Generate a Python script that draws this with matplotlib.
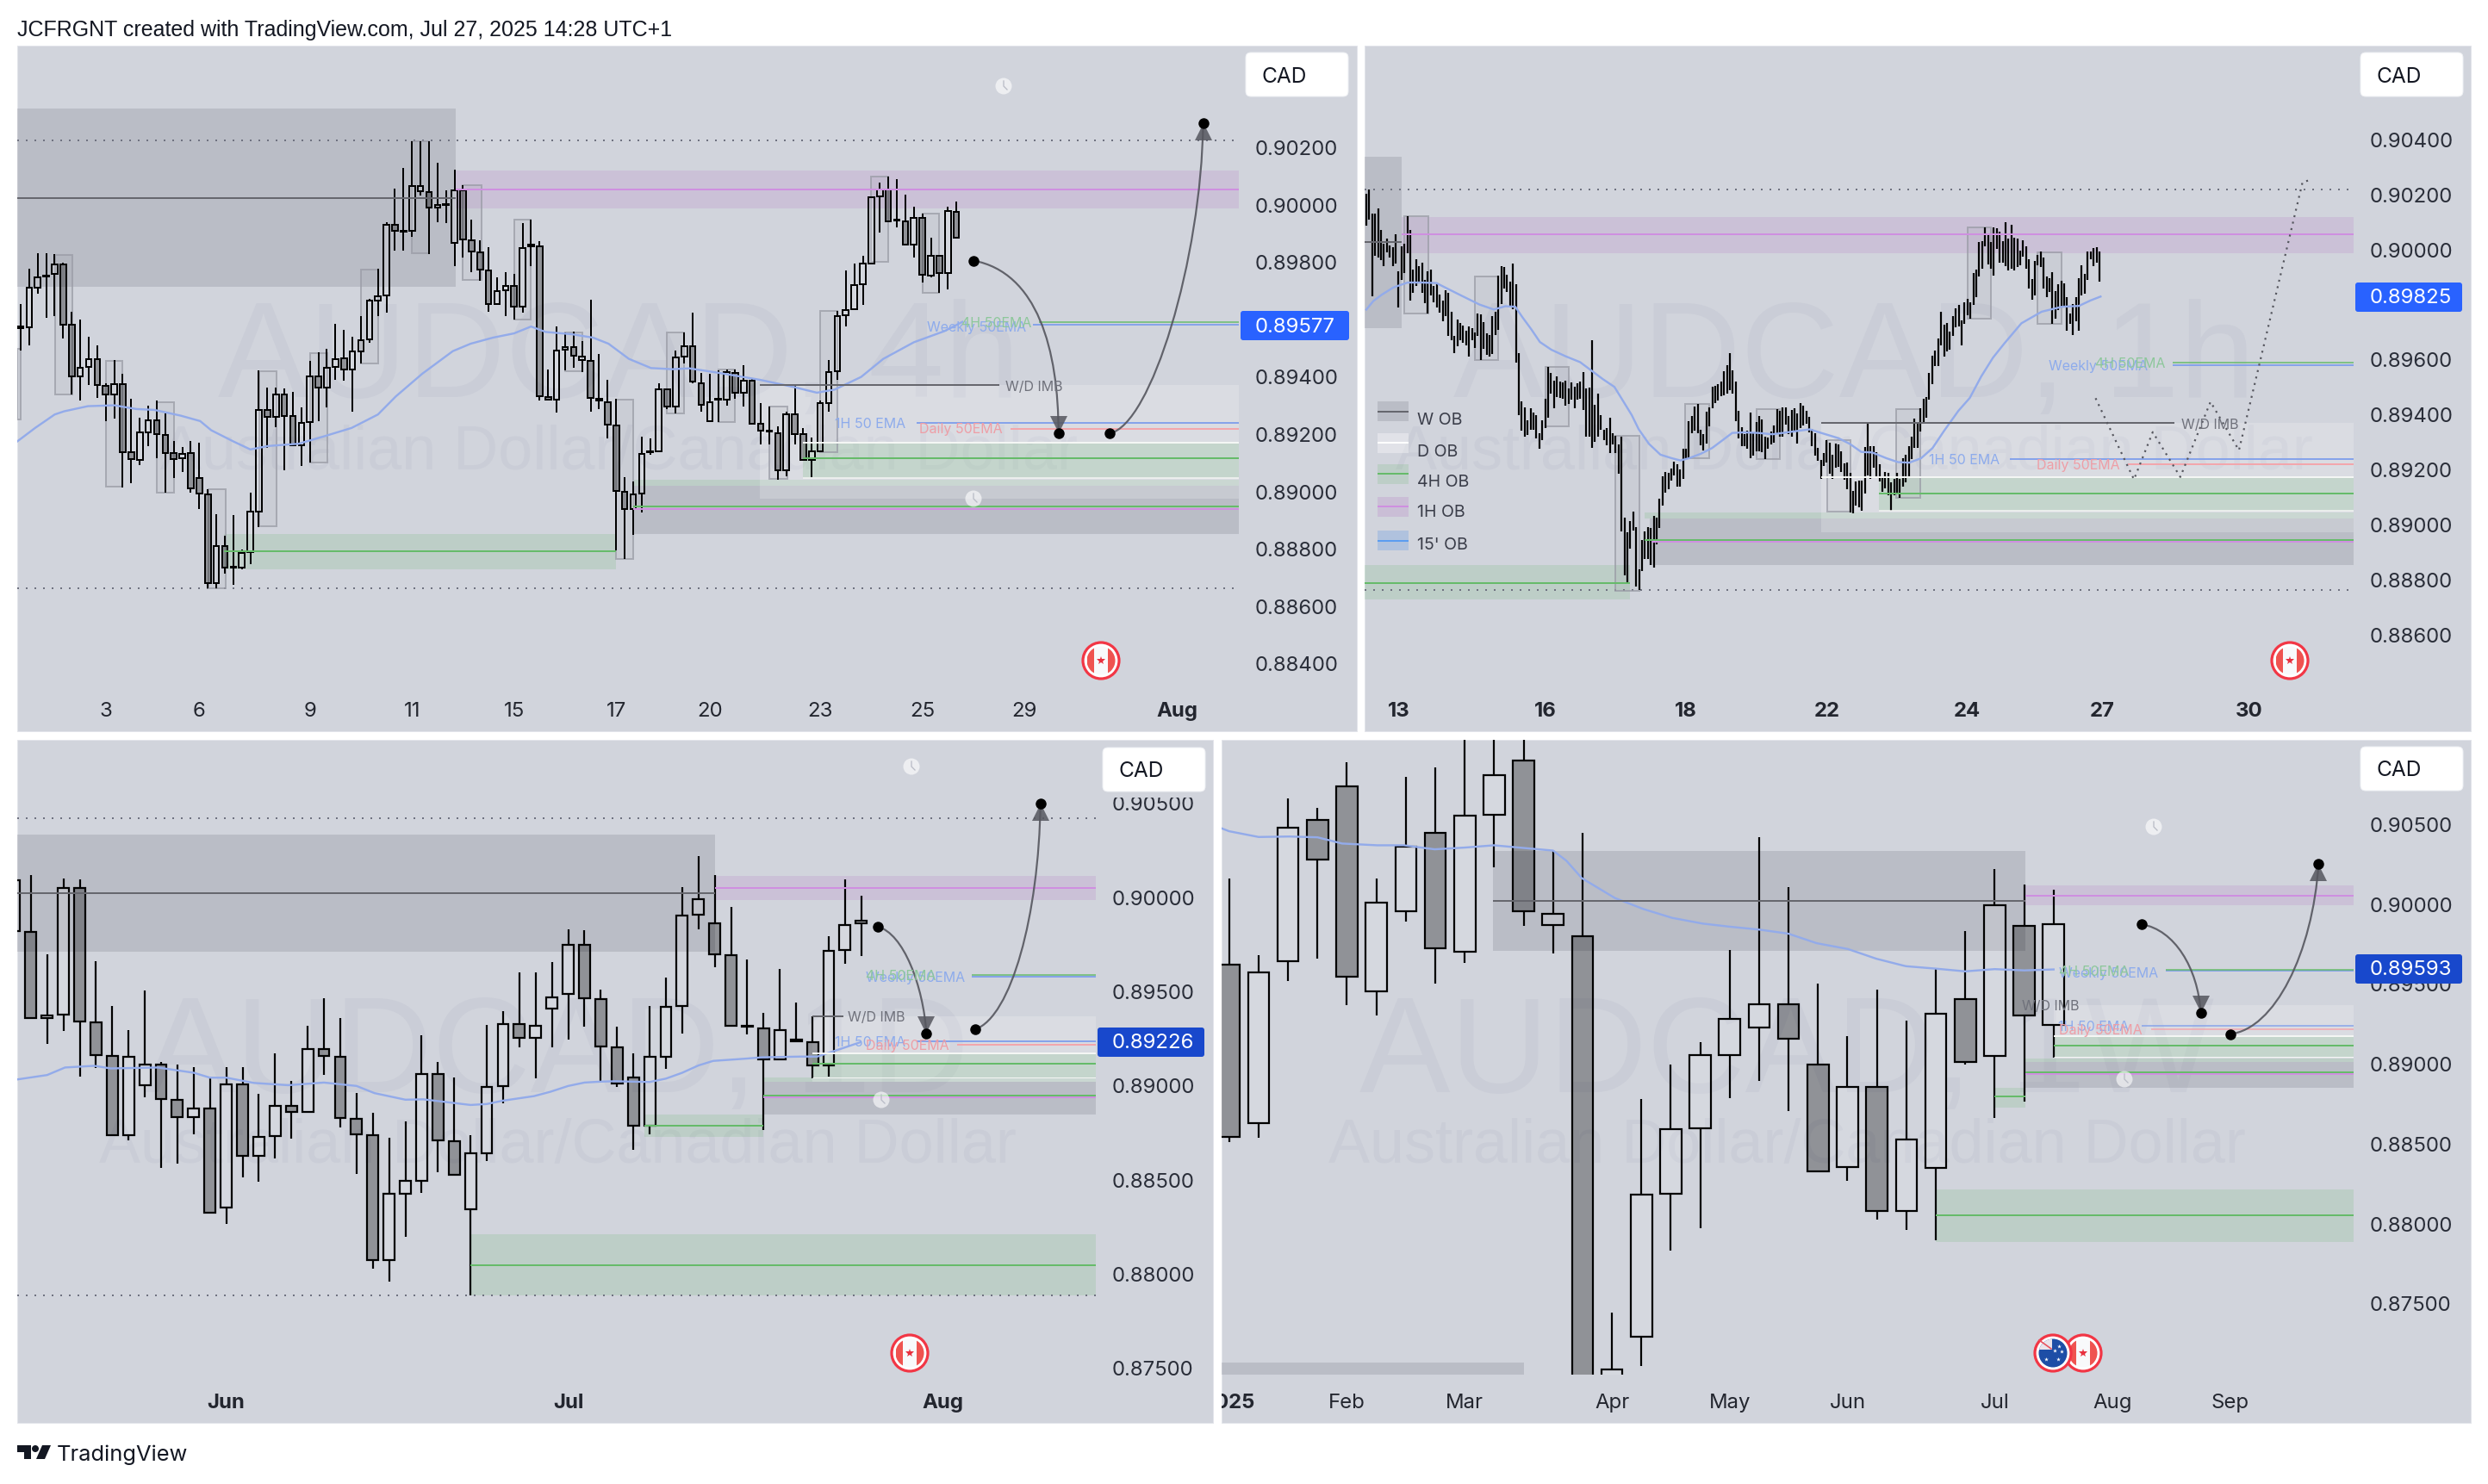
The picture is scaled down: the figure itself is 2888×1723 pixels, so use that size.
import numpy as np
import matplotlib
matplotlib.use("Agg")
import matplotlib.pyplot as plt
from matplotlib.patches import Rectangle, Circle, Polygon, FancyBboxPatch, PathPatch
from matplotlib.path import Path
from matplotlib.transforms import Bbox, TransformedBbox

plt.rcParams['font.family'] = ['Inter', 'DejaVu Sans']

# All prices below are AUDCAD quotes in units of 0.00001.
# ---------- 4h chart ----------
p1_open = [89569,89571,89708,89749,89758,89791,89579,89401,89433,89461,89366,89337,89373,89134,89109,89206,89247,89195,89131,89113,89131,89044,88989,88678,88807,88733,88733,88788,88929,89282,89260,89338,89261,89159,89241,89401,89360,89433,89464,89423,89488,89530,89665,89681,89929,89906,89907,90046,90043,89989,89999,89865,90049,89874,89832,89769,89651,89700,89716,89643,89855,89854,89327,89318,89492,89502,89458,89453,89322,89311,89228,88997,88937,88992,89134,89138,89354,89294,89469,89506,89377,89244,89318,89319,89412,89344,89385,89234,89209,89203,89071,89267,89200,89109,89137,89307,89417,89613,89634,89722,89794,90027,90052,89947,89940,89860,89954,89753,89822,89760,89975]
p1_close = [89574,89708,89747,89752,89791,89579,89401,89429,89459,89370,89337,89373,89134,89110,89206,89247,89198,89132,89112,89129,89008,88992,88678,88808,88733,88736,88785,88928,89283,89258,89338,89263,89159,89239,89401,89360,89429,89461,89423,89488,89527,89665,89679,89929,89907,89909,90065,90065,89989,89997,90000,90049,89877,89835,89772,89651,89697,89716,89643,89849,89859,89330,89318,89489,89502,89472,89469,89326,89315,89231,89000,88937,88989,89129,89137,89354,89294,89467,89506,89381,89302,89311,89321,89414,89344,89385,89236,89211,89212,89071,89267,89200,89109,89137,89307,89414,89610,89631,89720,89794,90024,90052,89942,89943,89859,89954,89755,89822,89760,89978,89884]
p1_high = [89653,89775,89829,89829,89826,89797,89624,89598,89539,89508,89377,89456,89409,89322,89256,89299,89315,89271,89176,89154,89176,89168,89005,88918,88843,88917,88796,88995,89420,89362,89362,89357,89346,89291,89453,89483,89495,89582,89563,89539,89609,89671,89775,89939,90054,90127,90219,90219,90219,90146,90050,90121,90068,89948,89876,89852,89747,89763,89758,89936,89948,89873,89425,89574,89554,89555,89524,89668,89477,89388,89322,89047,89032,89189,89184,89377,89354,89491,89554,89621,89412,89409,89420,89425,89425,89440,89393,89307,89294,89225,89278,89366,89220,89186,89315,89456,89629,89771,89794,89821,90027,90077,90096,90088,90033,89991,89967,89885,89822,89991,90010]
p1_low = [89491,89508,89687,89605,89609,89532,89338,89315,89370,89326,89244,89252,89011,89027,89090,89157,89113,88995,89046,89066,88995,88937,88662,88662,88712,88673,88728,88744,88874,89149,89223,89071,89156,89087,89099,89244,89291,89388,89385,89278,89444,89517,89609,89621,89838,89838,89888,90030,89826,89939,89936,89785,89815,89763,89734,89624,89648,89609,89598,89621,89785,89315,89315,89275,89420,89429,89414,89278,89286,89184,88793,88764,88848,88926,89126,89135,89286,89272,89444,89376,89278,89241,89241,89299,89322,89294,89236,89162,89162,89039,89050,89162,89105,89047,89134,89278,89388,89574,89634,89650,89794,89901,89939,89920,89857,89815,89728,89747,89690,89704,89881]
p1_ema_x = [-0.4,1.7,4,5.1,7.9,11,13.6,15.7,18.8,21.1,22.4,25,27,29.1,32.7,35.8,38.9,42,44.1,47.2,50.8,52.9,55.5,58,60,61.7,64.8,67.3,69.1,71.5,74.1,76.6,78.6,81.7,86.9,91,93.6,95.7,98.8,101.4,105,108.6,110.7]
p1_ema = [89173,89220,89267,89278,89296,89299,89286,89283,89263,89244,89212,89173,89145,89157,89165,89192,89220,89267,89330,89409,89488,89514,89535,89550,89574,89555,89547,89535,89514,89461,89429,89425,89428,89414,89388,89362,89343,89354,89398,89461,89519,89558,89590]
p1_tick_pos = [10,21,34,46,58,70,81,94,106,118,136]
p1_tick_lab = ['3','6','9','11','15','17','20','23','25','29','Aug']
p1_y_ticks = [0.902,0.900,0.898,0.894,0.892,0.890,0.888,0.886,0.884]
p1_boxes = [(4.03,6.1,89824,89338),(10,12,89453,89016),(16,18,89310,88995),(22.1,24.1,89006,88662),(28.1,30.1,89418,88876),(34,36.1,89481,89099),(40,42,89774,89445),(46,48,90219,89829),(52,54.2,90068,89736),(58,60,89948,89598),(64,66,89554,89417),(70,72,89318,88764),(76,78,89554,89272),(-0.4,0.05,89495,89249),(82,84,89425,89241),(88,90.1,89294,89043),(94,96,89629,89134),(100,102,90096,89799),(106,108,89967,89690)]

# ---------- 1h chart ----------
p2_high = [90201,90217,90128,90128,90147,90070,90019,90037,90013,90006,90053,89919,90009,90019,90120,90068,89925,89962,89938,89951,89886,89919,89926,89865,89878,89834,89813,89850,89842,89773,89685,89745,89732,89721,89704,89719,89711,89696,89766,89761,89735,89693,89686,89756,89773,89902,89936,89933,89907,89881,89946,89873,89621,89446,89425,89377,89423,89407,89396,89332,89377,89456,89571,89551,89521,89537,89518,89516,89521,89495,89516,89501,89513,89518,89553,89493,89498,89667,89433,89474,89396,89344,89349,89388,89332,
89323,89290,89318,89024,88971,89013,89046,88990,88836,88943,88974,88990,88987,89032,89024,89094,89175,89190,89188,89203,89227,89219,89200,89275,89275,89375,89394,89429,89438,89344,89328,89409,89425,89501,89503,89509,89519,89555,89579,89621,89560,89519,89412,89352,89328,89341,89407,89332,89373,89394,89381,89318,89315,89337,89360,89419,89412,89424,89425,89394,89415,89421,89403,89441,89430,89412,89391,89346,89332,89278,89235,89259,89305,89297,89253,89294,89290,89266,89222,89224,89188,89122,89156,89160,89159,
89282,89365,89284,89284,89263,89219,89176,89190,89186,89152,89165,89186,89165,89240,89253,89284,89318,89384,89371,89420,89456,89462,89550,89613,89631,89675,89772,89725,89730,89699,89756,89785,89798,89742,89805,89818,89805,89912,89925,90025,90029,90079,90051,90025,90079,90076,90063,90029,90097,90039,90087,90042,90037,89993,90032,90009,89962,89891,89957,89978,89990,89969,89900,89894,89915,89848,89873,89884,89876,89826,89766,89801,89826,89893,89940,89910,89990,89990,90003,90006,89990]
p2_low = [90084,90105,89827,89975,89970,89959,89938,89988,89970,89938,89948,89787,89886,89912,89985,89811,89839,89867,89878,89842,89803,89764,89832,89805,89787,89769,89737,89756,89683,89667,89623,89648,89667,89659,89651,89610,89667,89641,89683,89596,89636,89615,89610,89620,89686,89707,89801,89857,89844,89794,89782,89586,89398,89339,89318,89325,89344,89344,89313,89274,89305,89350,89386,89475,89422,89461,89459,89457,89430,89436,89454,89422,89454,89457,89415,89318,89318,89279,89300,89318,89342,89305,89287,89259,89290,
89258,89183,88974,88815,88790,88911,88977,88773,88763,88830,88875,88875,88851,88844,88927,88987,89068,89115,89127,89159,89179,89136,89136,89165,89238,89240,89332,89339,89332,89287,89269,89292,89357,89422,89441,89450,89464,89469,89476,89488,89476,89375,89311,89284,89284,89276,89240,89250,89266,89266,89261,89236,89276,89290,89297,89332,89318,89318,89363,89328,89318,89339,89294,89351,89360,89365,89334,89285,89250,89232,89164,89211,89224,89183,89164,89205,89208,89190,89162,89128,89042,89039,89068,89063,89050,
89113,89178,89164,89206,89169,89155,89117,89131,89105,89048,89107,89113,89097,89136,89152,89167,89238,89277,89277,89336,89367,89386,89452,89508,89576,89574,89650,89608,89628,89633,89683,89714,89720,89650,89728,89759,89746,89796,89824,89900,89928,90008,89943,89928,89902,90001,89951,89949,89936,89923,89928,89921,89933,89940,89973,89928,89857,89816,89831,89940,89933,89857,89826,89844,89727,89746,89779,89787,89787,89702,89727,89688,89738,89702,89832,89836,89886,89964,89936,89949,89880]
p2_ema_x = [0,2.4,5.3,9.2,14.1,19,23.9,27.8,32.7,38.6,43.5,47.4,50.8,53.3,56.2,59.2,63.1,68,72.9,76.8,80.7,84.6,87.5,90.5,92.9,96.4,100.3,104.2,107.1,110,114,117.9,121.8,124.8,128.7,133.6,138.5,143.4,151.2,155.1,161,164.9,168.8,172.5,177.4,181.3,185.2,189.2,193.1,197,201.9,205.8,209.7,213.7,217.6,223.4,230.3,237.2,243,247,250.4]
p2_ema = [89780,89811,89834,89860,89878,89878,89876,89855,89829,89798,89780,89792,89790,89751,89709,89662,89634,89610,89589,89558,89527,89499,89449,89397,89345,89292,89253,89240,89232,89240,89256,89277,89308,89332,89334,89332,89327,89334,89345,89332,89313,89292,89263,89261,89240,89226,89224,89240,89277,89339,89412,89459,89537,89605,89657,89730,89772,89790,89793,89813,89827]
p2_tick_pos = [11,61,109,157,205,251,301]
p2_tick_lab = ['13','16','18','22','24','27','30']
p2_y_ticks = [0.904,0.902,0.900,0.898,0.896,0.894,0.892,0.890,0.888,0.886]
p2_boxes = [(12.8,21.2,90120,89766),(36.9,45,89901,89598),(61.1,69.1,89571,89355),(84.9,93.2,89320,88759),(108.8,117,89436,89240),(133,141.1,89417,89238),(157.1,165.2,89305,89046),(180.8,189,89417,89097),(205,213,90077,89746),(229,237,89989,89728)]
p2_proj_x = [248.7,261.8,268.2,277.6,287.9,297.6,319.3,322.3]
p2_proj_y = [89458,89163,89335,89172,89445,89269,90243,90251]

# ---------- 1D chart ----------
p3_open = [89818,89813,89355,89373,90047,89331,89156,88735,88997,89109,88922,88828,88875,88351,89004,88625,88730,88889,88859,89193,89151,88819,88735,88071,88424,88492,89058,88702,88342,88639,88992,89322,89249,89408,89483,89743,89455,89198,89039,88782,89151,89418,89904,89857,89689,89310,89303,89135,89240,89226,89102,89715,89858]
p3_close = [90087,89357,89369,90047,89338,89158,88735,89151,89109,88924,88828,88875,88323,89004,88625,88726,88889,88859,89193,89156,88824,88740,88071,88422,88489,89058,88705,88524,88637,88988,89322,89249,89313,89465,89743,89460,89205,89006,88782,89151,89415,89900,89988,89694,89313,89315,89135,89291,89231,89102,89712,89850,89872]
p3_high = [90133,90115,89694,90098,90094,89659,89420,89292,89502,89123,89109,89093,89046,89097,89097,88955,89170,89020,89315,89460,89357,88959,88852,88719,88807,89263,89123,89039,88735,89320,89390,89596,89600,89654,89825,89820,89507,89308,89168,89418,89572,90052,90215,90115,89946,89666,89385,89617,89436,89366,89792,90091,90005]
p3_low = [89783,89357,89217,89287,89044,89090,88735,88707,88936,88562,88581,88740,88323,88263,88510,88487,88609,88714,88859,89053,88777,88529,88024,87958,88192,88426,88539,88524,87884,88595,88903,89198,89034,89198,89240,89310,89011,88988,88655,88740,89086,89273,89825,89624,89313,89268,88761,89135,89231,89034,89044,89642,89684]
p3_ema_x = [0.2,2,3.1,4.9,5.9,8.8,11,12,13,14.7,16.8,19,21,22.1,24,25.1,28,29,30,31.9,32.9,34,35,36,36.9,39,40,41,42,42.9,44.9,45.9,48.3,49.3,50.7,51.9]
p3_ema = [89030,89053,89093,89102,89088,89093,89065,89039,89039,89011,88999,89013,88995,88957,88922,88924,88894,88899,88917,88941,88964,88995,89013,89018,89020,89016,89034,89065,89104,89128,89140,89147,89151,89151,89191,89226]
p3_tick_pos = [13,34,57]
p3_tick_lab = ['Jun','Jul','Aug']
p3_y_ticks = [0.905,0.900,0.895,0.890,0.885,0.880,0.875]

# ---------- 1W chart ----------
p4_open = [89617,88627,89639,90525,90736,89452,89952,90442,89700,90557,90893,89867,89796,86900,87291,88184,88594,89053,89224,89372,88993,88352,88855,88076,88346,89403,89047,89858,89243]
p4_close = [88539,89567,90475,90277,89540,90007,90357,89722,90552,90805,89952,89936,86900,87084,88179,88589,89051,89276,89372,89155,88325,88855,88077,88524,89311,89008,89991,89302,89873]
p4_high = [90159,89677,90659,90599,90887,90159,90791,90855,91080,91080,91080,90329,90442,87442,88778,88990,89133,89711,90415,90104,89499,89172,89463,89267,89599,89828,90217,90119,90089]
p4_low = [88509,88533,89518,89658,89367,89298,89889,89501,89631,90225,89859,89689,86500,86500,87106,87827,87967,88784,88888,88701,88325,88267,88025,87960,87892,88990,88658,88762,89035]
p4_ema_x = [-0.24,0,1,2.05,3,3.84,5.03,5.93,6.98,8.02,8.99,9.96,11,11.45,11.98,13.1,14.07,15.04,16.08,16.98,18.02,18.99,19.96,21.01,21.98,22.92,23,24,25,26,27,28]
p4_ema = [90470,90453,90417,90420,90415,90376,90365,90365,90340,90351,90365,90349,90332,90269,90159,90035,89966,89911,89875,89856,89837,89812,89752,89716,89655,89611,89608,89593,89576,89590,89582,89588]
p4_tick_pos = [0,4,8,13,17,21,26,30,34]
p4_tick_lab = ['2025','Feb','Mar','Apr','May','Jun','Jul','Aug','Sep']
p4_y_ticks = [0.905,0.900,0.895,0.890,0.885,0.880,0.875]

p1_dotted = [90222, 88660]
p2_dotted = [90217, 88761]
p3_dotted = [90419, 87884]

BG = '#d1d4dc'
BLACK = '#000000'
GRAY_Z, PURPLE_Z, GREEN_Z = '#787b86', '#9c27b0', '#4caf50'
L_GRAY, L_GREEN, L_MAG, L_BLUE, L_RED, L_WHITE = '#66676e', '#66bb6a', '#cf8fe0', '#86a3ea', '#f2a6ac', '#f4f6f4'
C_EMA = '#93abea'
PX = 72 / 200          # one output pixel in points
A_PURPLE = 0.105

fig = plt.figure(figsize=(14.44, 8.62), dpi=200, facecolor='white')
under = fig.add_axes([0, 0, 1, 1], zorder=0)
under.set_xlim(0, 2888); under.set_ylim(1724, 0); under.axis('off')
ov = fig.add_axes([0, 0, 1, 1], zorder=3)
ov.set_xlim(0, 2888); ov.set_ylim(1724, 0); ov.axis('off'); ov.patch.set_alpha(0)

def P(v):
    return np.asarray(v, dtype=float) / 1e5

def make_axes(L, R, T, B, xlim, ylim):
    ax = fig.add_axes([L / 2888, 1 - B / 1724, (R - L) / 2888, (B - T) / 1724], zorder=1)
    ax.patch.set_alpha(0)
    ax.set_xlim(*xlim); ax.set_ylim(*ylim)
    for s in ax.spines.values():
        s.set_visible(False)
    ax.yaxis.tick_right()
    return ax

def style_ticks(ax, xpos, xlab, yt, bold):
    ax.set_xticks(xpos)
    ax.set_xticklabels(xlab)
    ax.set_yticks(yt)
    ax.set_yticklabels([f'{v:.5f}' for v in yt])
    ax.tick_params(axis='x', length=0, pad=21 * PX, labelsize=24 * PX, labelcolor='#23262f')
    ax.tick_params(axis='y', length=0, pad=19 * PX, labelsize=24 * PX, labelcolor='#2a2e39')
    for lab, t in zip(ax.get_xticklabels(), xlab):
        if t in bold:
            lab.set_fontweight('bold')

def zone(ax, x0, x1, top, bot, color, alpha, z=1.0):
    x1 = ax.get_xlim()[1] if x1 is None else x1
    x0 = ax.get_xlim()[0] if x0 is None else x0
    ax.add_patch(Rectangle((x0, bot / 1e5), x1 - x0, (top - bot) / 1e5, fc=color, ec='none', alpha=alpha, zorder=z))

def level(ax, x0, x1, y, color, lw=2.0, z=4.0):
    x1 = ax.get_xlim()[1] if x1 is None else x1
    x0 = ax.get_xlim()[0] if x0 is None else x0
    ax.plot([x0, x1], [y / 1e5, y / 1e5], color=color, lw=lw * PX, zorder=z, solid_capstyle='butt')

def dotted(ax, ys):
    for y in ys:
        ax.axhline(y / 1e5, color='#6f7280', lw=2 * PX, ls=(0, (1, 4)), zorder=1.5)

def candles(ax, o, h, l, c, width, lw):
    o, h, l, c = map(P, (o, h, l, c))
    x = np.arange(len(o))
    top, bot = np.maximum(o, c), np.minimum(o, c)
    ax.vlines(x, top, h, color=BLACK, lw=lw * PX, zorder=3)
    ax.vlines(x, l, bot, color=BLACK, lw=lw * PX, zorder=3)
    faces = [(0, 0, 0, 0.31) if cc < oo else (1, 1, 1, 0.10) for oo, cc in zip(o, c)]
    ax.bar(x, top - bot, bottom=bot, width=width, color=faces, edgecolor=BLACK, linewidth=lw * PX, zorder=3)

def boxes(ax, items):
    for x0, x1, t, b in items:
        ax.add_patch(Rectangle((x0, b / 1e5), x1 - x0, (t - b) / 1e5, fc=GRAY_Z, alpha=0.08, ec='none', zorder=2))
        ax.add_patch(Rectangle((x0, b / 1e5), x1 - x0, (t - b) / 1e5, fc='none', ec='#9a9ca6', lw=2 * PX, alpha=0.75, zorder=2))

def curve(ax, pts, head, ppu):
    pts = [(x, y / 1e5) for x, y in pts]
    ax.add_patch(PathPatch(Path(pts, [Path.MOVETO, Path.CURVE4, Path.CURVE4, Path.CURVE4]),
                           fc='none', ec='#55565e', lw=2.2 * PX, alpha=0.9, zorder=5))
    ex, ey = pts[-1]
    if head == 'down':
        ax.plot([ex], [ey + 10 / ppu], marker='v', ms=20 * PX, color='#55565e', mew=0, alpha=0.85, zorder=5)
    else:
        ax.plot([ex], [ey - 10 / ppu], marker='^', ms=20 * PX, color='#55565e', mew=0, alpha=0.85, zorder=5)
    ax.plot([pts[0][0], ex], [pts[0][1], ey], ls='none', marker='o', ms=12.5 * PX, color=BLACK, mew=0, zorder=6)

def T(x, y, s, size, color, ha='left', va='center', weight='normal', target=None, family=None):
    t = (target or ov).text(x, y, s, fontsize=size * PX, color=color, ha=ha, va=va, fontweight=weight)
    if family:
        t.set_fontfamily(family)
    return t

def cad_box(x0, y0):
    ov.add_patch(FancyBboxPatch((x0, y0), 119, 51, boxstyle='round,pad=0,rounding_size=6', fc='white', ec='#eef0f4', lw=1 * PX, zorder=6))
    T(x0 + 18, y0 + 27, 'CAD', 24.5, '#131722').set_zorder(7)

def price_box(x0, yc, label, color, w=124):
    ov.add_patch(FancyBboxPatch((x0, yc - 17), w, 34, boxstyle='round,pad=0,rounding_size=3', fc=color, ec='none', zorder=6))
    T(x0 + 17, yc + 0.5, label, 24, 'white').set_zorder(7)

def clock(x, y):
    ov.add_patch(Circle((x, y), 9.5, fc='white', ec='none', alpha=0.62, zorder=4))
    ov.plot([x, x, x + 4], [y - 6, y, y + 4], color='#b9bcc6', lw=1.3 * PX, zorder=4)

def flag(x, y, kind='CA'):
    RED = '#f23645'
    ring = Circle((x, y), 21, fc='white', ec=RED, lw=3.2 * PX, zorder=5)
    ov.add_patch(ring)
    inner = Circle((x, y), 16.5, fc='#f8f9fb', ec='none', zorder=5)
    ov.add_patch(inner)
    if kind == 'CA':
        for xx in (x - 16.5, x + 8):
            r = Rectangle((xx, y - 17), 8.5, 34, fc='#ef5350', ec='none', zorder=5)
            ov.add_patch(r); r.set_clip_path(inner)
        ov.plot([x], [y], marker='*', ms=11 * PX, color='#e8303f', mew=0, zorder=5)
    else:
        b = Circle((x, y), 16.5, fc='#1d4ea6', ec='none', zorder=5)
        ov.add_patch(b)
        r = Rectangle((x - 17, y - 17), 16, 13, fc='#e9e4ea', ec='none', zorder=5)
        ov.add_patch(r); r.set_clip_path(inner)
        ov.plot([x - 16, x - 2], [y - 15, y - 5], color='#e8505b', lw=1.6 * PX, zorder=5)
        ov.plot([x + 7, x + 2, x + 10, x + 6, x - 8], [y - 8, y - 3, y - 2, y + 7, y + 7], ls='none',
                marker='*', ms=5 * PX, color='white', mew=0, zorder=5)

# ---------- panels ----------
for (x0, x1, y0, y1) in [(20, 1575, 54, 850), (1584, 2868, 54, 850), (20, 1408, 860, 1653), (1418, 2868, 860, 1653)]:
    under.add_patch(Rectangle((x0, y0), x1 - x0, y1 - y0, fc=BG, ec='#e2e4ea', lw=1 * PX))

WM = '#cacdd7'
WM_FONT = 'Liberation Sans'
for cx, y1, y2, a, b in [
    (718, 461, 545, 'AUDCAD, 4h', 'Australian Dollar/Canadian Dollar'),
    (2152, 461, 545, 'AUDCAD, 1h', 'Australian Dollar/Canadian Dollar'),
    (647, 1268, 1350, 'AUDCAD, 1D', 'Australian Dollar/Canadian Dollar'),
    (2074, 1268, 1350, 'AUDCAD, 1W', 'Australian Dollar/Canadian Dollar')]:
    T(cx, y1, a, 158, WM, ha='center', va='baseline', target=under, family=WM_FONT)
    T(cx, y2, b, 72, WM, ha='center', va='baseline', target=under, family=WM_FONT)

# Panel 1 - 4h
ax1 = make_axes(20, 1438, 54, 794, (-0.405, 143.2), (0.88330, 0.90554))
zone(ax1, None, 51.1, 90335, 89711, GRAY_Z, 0.25)
zone(ax1, 51.1, None, 90118, 89987, PURPLE_Z, A_PURPLE)
zone(ax1, 23.9, 70, 88851, 88728, GREEN_Z, 0.15)
zone(ax1, 72, None, 89019, 88851, GRAY_Z, 0.25)
zone(ax1, 72, None, 89040, 89019, GREEN_Z, 0.15)
zone(ax1, 86.9, None, 89370, 88972, 'white', 0.2)
zone(ax1, 92, None, 89170, 89044, GREEN_Z, 0.15)
boxes(ax1, p1_boxes)
dotted(ax1, p1_dotted)
candles(ax1, p1_open, p1_high, p1_low, p1_close, 0.67, 2)
ax1.plot(p1_ema_x, P(p1_ema), color=C_EMA, lw=2.4 * PX, zorder=3.5)
level(ax1, None, 51.1, 90022, L_GRAY)
level(ax1, 51.1, None, 90052, L_MAG)
level(ax1, 23.9, 70, 88789, L_GREEN)
level(ax1, 72, None, 88945, L_GREEN)
level(ax1, 72, None, 88937, L_MAG)
level(ax1, 86.9, 115, 89370, L_GRAY)
level(ax1, 92, None, 89170, L_WHITE)
level(ax1, 92, None, 89044, L_WHITE, lw=1.5)
level(ax1, 92, None, 89115, L_GREEN)
level(ax1, 105.3, None, 89239, L_BLUE)
level(ax1, 116.4, None, 89217, L_RED)
level(ax1, 119, None, 89579, L_BLUE)
level(ax1, 119.7, None, 89590, L_GREEN, lw=1.5)
curve(ax1, [(112, 89804), (119.5, 89763), (122, 89495), (122, 89201)], 'down', 33267)
curve(ax1, [(128, 89201), (132.9, 89228), (138.8, 89810), (139, 90283)], 'up', 33267)
style_ticks(ax1, p1_tick_pos, p1_tick_lab, p1_y_ticks, {'Aug'})

# Panel 2 - 1h
ax2 = make_axes(1584, 2732, 54, 794, (-0.59, 336.7), (0.88424, 0.90738))
zone(ax2, None, 11.9, 90336, 89711, GRAY_Z, 0.25)
zone(ax2, 12, None, 90117, 89985, PURPLE_Z, A_PURPLE)
zone(ax2, None, 90, 88852, 88727, GREEN_Z, 0.15)
zone(ax2, 96.7, None, 89021, 88852, GRAY_Z, 0.25)
zone(ax2, 95, None, 89042, 89021, GREEN_Z, 0.15)
zone(ax2, 155, None, 89367, 88970, 'white', 0.2)
zone(ax2, 174.8, None, 89170, 89048, GREEN_Z, 0.15)
boxes(ax2, p2_boxes)
dotted(ax2, p2_dotted)
ax2.vlines(np.arange(len(p2_high)), P(p2_low), P(p2_high), color=BLACK, lw=2.2 * PX, zorder=3)
ax2.plot(p2_ema_x, P(p2_ema), color=C_EMA, lw=2.4 * PX, zorder=3.5)
level(ax2, None, 11.9, 90024, L_GRAY)
level(ax2, 12, None, 90052, L_MAG)
level(ax2, None, 90, 88788, L_GREEN)
level(ax2, 95, None, 88944, L_GREEN)
level(ax2, 97.3, None, 88936, L_MAG)
level(ax2, 155, 275.6, 89367, L_GRAY)
level(ax2, 155, None, 89170, L_WHITE)
level(ax2, 174.8, None, 89048, L_WHITE, lw=1.5)
level(ax2, 174.8, None, 89113, L_GREEN)
level(ax2, 219.4, None, 89238, L_BLUE)
level(ax2, 259.7, None, 89217, L_RED)
level(ax2, 275, None, 89577, L_BLUE)
level(ax2, 275, None, 89588, L_GREEN, lw=1.5)
ax2.plot(p2_proj_x, P(p2_proj_y), color='#55565e', lw=2.2 * PX, ls=(0, (1, 2.5)), zorder=5)
style_ticks(ax2, p2_tick_pos, p2_tick_lab, p2_y_ticks, set(p2_tick_lab))

# Panel 3 - 1D
ax3 = make_axes(20, 1272, 860, 1597, (0.164, 66.4), (0.87462, 0.90833))
zone(ax3, None, 43, 90330, 89708, GRAY_Z, 0.25)
zone(ax3, 43, None, 90110, 89984, PURPLE_Z, A_PURPLE)
zone(ax3, 28, None, 88209, 87884, GREEN_Z, 0.15)
zone(ax3, 38.7, 46, 88843, 88723, GREEN_Z, 0.15)
zone(ax3, 46, None, 89016, 88845, GRAY_Z, 0.25)
zone(ax3, 46, None, 89039, 89016, GREEN_Z, 0.15)
zone(ax3, 49, None, 89366, 89016, 'white', 0.2)
zone(ax3, 49, None, 89170, 89039, GREEN_Z, 0.15)
dotted(ax3, p3_dotted)
candles(ax3, p3_open, p3_high, p3_low, p3_close, 0.68, 2.2)
ax3.plot(p3_ema_x, P(p3_ema), color=C_EMA, lw=2.4 * PX, zorder=3.5)
level(ax3, None, 43, 90019, L_GRAY)
level(ax3, 43, None, 90047, L_MAG)
level(ax3, 28, None, 88045, L_GREEN)
level(ax3, 38.7, 46, 88786, L_GREEN)
level(ax3, 46, None, 88943, L_GREEN)
level(ax3, 46, None, 88934, L_MAG)
level(ax3, 49, 50.9, 89366, L_GRAY)
level(ax3, 49, None, 89170, L_WHITE)
level(ax3, 49, None, 89039, L_WHITE, lw=1)
level(ax3, 49, None, 89112, L_GREEN)
level(ax3, 55.4, None, 89233, L_BLUE)
level(ax3, 57.9, None, 89214, L_RED)
level(ax3, 58.8, None, 89574, L_BLUE)
level(ax3, 58.8, None, 89584, L_GREEN, lw=1.5)
curve(ax3, [(53, 89841), (54.6, 89806), (55.8, 89525), (56, 89273)], 'down', 21860)
curve(ax3, [(59, 89296), (61.2, 89362), (62.9, 89900), (63, 90496)], 'up', 21860)
style_ticks(ax3, p3_tick_pos, p3_tick_lab, p3_y_ticks, set(p3_tick_lab))

# Panel 4 - 1W
ax4 = make_axes(1418, 2732, 860, 1597, (-0.257, 38.19), (0.87052, 0.91025))
zone(ax4, 8.97, 27.05, 90330, 89704, GRAY_Z, 0.25)
zone(ax4, 27.05, None, 90113, 89988, PURPLE_Z, A_PURPLE)
zone(ax4, 24, None, 88209, 87883, GREEN_Z, 0.15)
zone(ax4, 26, 27.05, 88848, 88723, GREEN_Z, 0.15)
zone(ax4, 27.05, None, 89011, 88848, GRAY_Z, 0.25)
zone(ax4, 27.05, None, 89029, 89011, GREEN_Z, 0.15)
zone(ax4, 28, None, 89365, 89029, 'white', 0.2)
zone(ax4, 28, None, 89169, 89041, GREEN_Z, 0.15)
zone(ax4, None, 10, 87128, 86000, GRAY_Z, 0.25)
candles(ax4, p4_open, p4_high, p4_low, p4_close, 0.72, 2.2)
ax4.plot(p4_ema_x, P(p4_ema), color=C_EMA, lw=2.4 * PX, zorder=3.5)
level(ax4, 8.97, 27.05, 90016, L_GRAY)
level(ax4, 27.05, None, 90051, L_MAG)
level(ax4, 24, None, 88049, L_GREEN)
level(ax4, 26, 27.05, 88792, L_GREEN)
level(ax4, 27.05, None, 88946, L_GREEN)
level(ax4, 27.05, None, 88931, L_MAG)
level(ax4, 28, None, 89169, L_WHITE)
level(ax4, 28, None, 89041, L_WHITE, lw=1)
level(ax4, 28, None, 89112, L_GREEN)
level(ax4, 31, None, 89234, L_BLUE, lw=1.5)
level(ax4, 31.3, None, 89216, L_RED, lw=1.5)
level(ax4, 31.8, None, 89579, L_BLUE)
level(ax4, 31.8, None, 89588, L_GREEN, lw=1.5)
curve(ax4, [(31, 89870), (32.1, 89837), (32.9, 89599), (33, 89317)], 'down', 18554)
curve(ax4, [(34, 89184), (35.5, 89213), (36.8, 89689), (37, 90250)], 'up', 18554)
style_ticks(ax4, p4_tick_pos, p4_tick_lab, p4_y_ticks, {'2025'})
clip4 = TransformedBbox(Bbox([[1418 / 2888, 1 - 1653 / 1724], [1, 1 - 860 / 1724]]), fig.transFigure)
for lab in ax4.get_xticklabels():
    lab.set_clip_on(True)
    lab.set_clip_box(clip4)

# ---------- level captions ----------
WD, BL, RD, GN = '#6f717b', '#8dabec', '#ee9ea6', '#8dc79b'
for x, y, s, c in [
    (1167, 450, 'W/D IMB', WD), (969, 493, '1H 50 EMA', BL), (1067, 499, 'Daily 50EMA', RD),
    (1076, 380, 'Weekly 50EMA', BL), (1116, 376, '4H 50EMA', GN),
    (2532, 494, 'W/D IMB', WD), (2239, 535, '1H 50 EMA', BL), (2364, 541, 'Daily 50EMA', RD),
    (2378, 426, 'Weekly 50EMA', BL), (2432, 423, '4H 50EMA', GN),
    (984, 1182, 'W/D IMB', WD), (969, 1211, '1H 50 EMA', BL), (1005, 1215, 'Daily 50EMA', RD),
    (1005, 1136, 'Weekly 50EMA', BL), (1005, 1134, '4H 50EMA', GN),
    (2347, 1169, 'W/D IMB', WD), (2389, 1193, '1H 50 EMA', BL), (2390, 1197, 'Daily 50EMA', RD),
    (2390, 1131, 'Weekly 50EMA', BL), (2390, 1129, '4H 50EMA', GN)]:
    T(x, y, s, 16, c).set_zorder(2)

# ---------- legend in the 1h panel ----------
for (y0, yl, yt, s, fc, a, lc) in [
    (467, 479, 488, 'W OB', GRAY_Z, 0.25, L_GRAY),
    (504, 515, 525, 'D OB', 'white', 0.35, '#ffffff'),
    (540, 551, 560, '4H OB', GREEN_Z, 0.15, L_GREEN),
    (578, 589, 595, '1H OB', PURPLE_Z, 0.12, L_MAG),
    (617, 629, 633, "15' OB", '#2f7be8', 0.2, '#5b9df0')]:
    ov.add_patch(Rectangle((1599, y0), 36, 23, fc=fc, ec='none', alpha=a, zorder=2))
    ov.plot([1599, 1635], [yl, yl], color=lc, lw=2 * PX, zorder=2, solid_capstyle='butt')
    T(1645, yt, s, 19.5, '#3b3e4a').set_zorder(2)

# ---------- right-hand boxes and icons ----------
cad_box(1446, 62); cad_box(2740, 62); cad_box(1280, 869); cad_box(2740, 868)
ov.add_patch(Rectangle((1280, 920), 119, 7, fc=BG, ec='none', zorder=5))
price_box(1440, 379, '0.89577', '#2962ff', w=126)
price_box(2734, 346, '0.89825', '#2962ff')
price_box(1274, 1211, '0.89226', '#1848cc')
price_box(2734, 1126, '0.89593', '#1848cc')
clock(1165, 101); clock(1130, 580); clock(1058, 891); clock(1023, 1278); clock(2500, 961); clock(2466, 1254)
flag(1278, 768); flag(2658, 768); flag(1056, 1572); flag(2418, 1572); flag(2383, 1572, 'AU')

# ---------- header and footer ----------
T(20, 35, 'JCFRGNT created with TradingView.com, Jul 27, 2025 14:28 UTC+1', 25, '#131722', family='Liberation Sans')
ov.add_patch(Polygon([(20, 1679), (36, 1679), (36, 1695), (28, 1695), (28, 1687), (20, 1687)], fc='#131722', ec='none'))
ov.add_patch(Circle((41, 1683), 4, fc='#131722', ec='none'))
ov.add_patch(Polygon([(49, 1679), (59, 1679), (52, 1695), (42, 1695)], fc='#131722', ec='none'))
T(66, 1689, 'TradingView', 25.5, '#131722')

fig.savefig('out.png', dpi=200, facecolor='white')
